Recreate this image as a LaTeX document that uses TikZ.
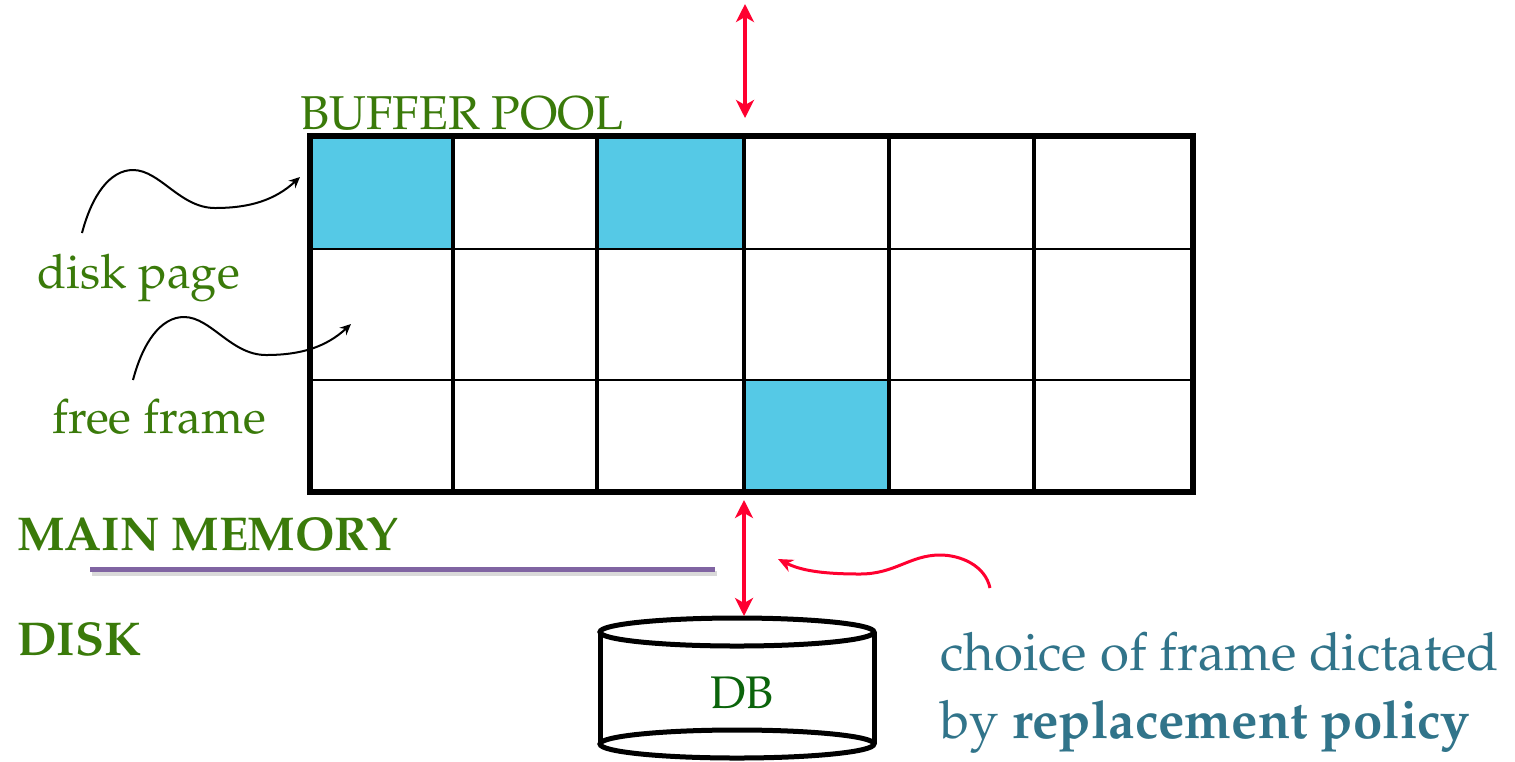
\documentclass[tikz,border=0pt]{standalone}
\usepackage[T1]{fontenc}
\renewcommand{\rmdefault}{ppl}
\usepackage{tikz}
\usetikzlibrary{arrows.meta}
\definecolor{C1}{HTML}{55C9E6}
\definecolor{C2}{HTML}{3A7A0A}
\definecolor{C3}{HTML}{0B640B}
\definecolor{C4}{HTML}{31748A}
\definecolor{C5}{HTML}{FF0030}
\definecolor{C6}{HTML}{8064A2}
\begin{document}
\begin{tikzpicture}[x=0.2mm,y=-0.2mm]
\tikzstyle{t} = [C2,inner sep=0pt,anchor=base west,font=\fontsize{27}{32}\selectfont]
\tikzstyle{h} = [t,font=\fontsize{27}{32}\selectfont\bfseries]
\tikzstyle{c} = [C4,inner sep=0pt,anchor=base west,font=\fontsize{30}{36}\selectfont]
\tikzstyle{a} = [C5,line width=0.9mm,{Stealth[length=3.6mm,width=3.6mm,inset=1mm]}-{Stealth[length=3.6mm,width=3.6mm,inset=1mm]}]
\tikzstyle{w} = [line width=0.4mm,-{Stealth[length=2.2mm,width=2mm]}]
\tikzstyle{r} = [C5,line width=0.6mm,-{Stealth[length=3mm,width=2.6mm]}]
\def\xl{310}
\def\xr{1193}
\def\yt{136}
\def\yb{492}
\useasboundingbox (0,0) rectangle (1515,761);
\fill[C1] (\xl,\yt) rectangle (453,249);
\fill[C1] (597,\yt) rectangle (744,249);
\fill[C1] (744,380) rectangle (889,\yb);
\foreach \y in {249,380} \draw[line width=0.45mm] (\xl,\y) -- (\xr,\y);
\foreach \x in {453,597,744,889,1034} \draw[line width=0.7mm] (\x,\yt) -- (\x,\yb);
\draw[line width=1.1mm] (\xl,\yt) rectangle (\xr,\yb);
\node[t] (bp) at (300,129) {BUFFER POOL};
\node[t] (dp) at (37,288) {disk page};
\node[t] (ff) at (52,433) {free frame};
\node[h] (mm) at (17,550) {MAIN MEMORY};
\node[h] (dk) at (17,655) {DISK};
\node[c] (c1) at (940,670) {choice of frame dictated};
\node[c] (c2) at (940,738) {by \textbf{replacement policy}};
\draw[line width=1mm,black!15] (92,573) -- (717,573);
\draw[line width=1mm,C6] (90,569) -- (715,569);
\draw[line width=1mm] (737,632) ellipse (137 and 14);
\draw[line width=1mm] (737,744) ellipse (137 and 14);
\draw[line width=1mm] (600,632) -- (600,744) (874,632) -- (874,744);
\node[C3,inner sep=0pt,anchor=base,font=\fontsize{26}{31}\selectfont] (db) at (742,708) {DB};
\coordinate (cpu) at (745,4);
\coordinate (top) at (745,118);
\coordinate (bot) at (744,500);
\coordinate (dbt) at (744,616);
\draw[a] (cpu) -- (top);
\draw[a] (bot) -- (dbt);
\coordinate (w1) at (82,233);
\coordinate (w2) at (300,177);
\coordinate (w3) at (133,380);
\coordinate (w4) at (351,324);
\coordinate (r1) at (990,588);
\coordinate (r2) at (778,559);
\draw[w] (w1) .. controls (92,195) and (110,170) .. (133,170)
 .. controls (160,170) and (180,208) .. (215,208)
 .. controls (250,208) and (275,200) .. (w2);
\draw[w] (w3) .. controls (143,342) and (161,317) .. (184,317)
 .. controls (211,317) and (231,355) .. (266,355)
 .. controls (301,355) and (326,347) .. (w4);
\draw[r] (r1) .. controls (985,565) and (960,555) .. (940,555)
 .. controls (910,555) and (895,574) .. (860,574)
 .. controls (820,574) and (800,570) .. (r2);
\end{tikzpicture}
\end{document}
